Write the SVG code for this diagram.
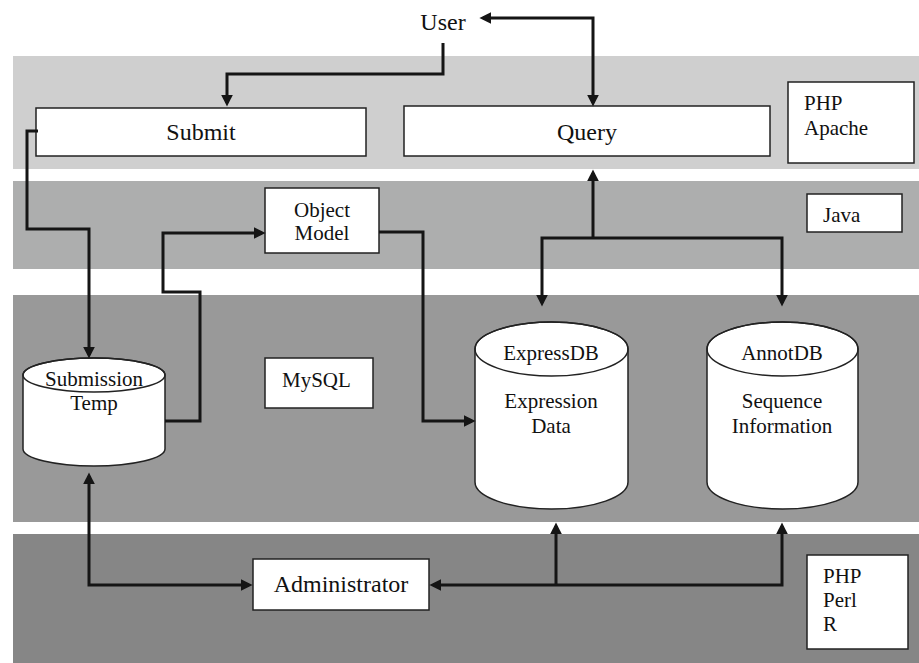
<svg xmlns="http://www.w3.org/2000/svg" width="919" height="663" viewBox="0 0 919 663">
<style>
.box{fill:#fff;stroke:#222;stroke-width:1.5}
.cyl{fill:#fff;stroke:#222;stroke-width:1.5}
text{font-family:'Liberation Serif','DejaVu Serif',serif;fill:#111}
.big{font-size:24px}
.sm{font-size:21px}
.c{text-anchor:middle}
.con path{fill:none;stroke:#151515;stroke-width:3;stroke-linejoin:miter}
</style>
<defs>
<marker id="ah" markerUnits="userSpaceOnUse" markerWidth="12" markerHeight="12" refX="7" refY="5" orient="auto-start-reverse" viewBox="0 0 10 10">
<path d="M0,0 L10,5 L0,10 z" fill="#151515"/>
</marker>
</defs>
<g id="bands">
<rect x="13" y="56" width="906" height="113" fill="#cfcfcf"/>
<rect x="13" y="181" width="906" height="88" fill="#adaeae"/>
<rect x="13" y="295" width="906" height="227" fill="#999999"/>
<rect x="13" y="534" width="906" height="129" fill="#868686"/>
</g>
<g id="user"><text class="big c" x="443" y="30" font-family="Liberation Serif, serif">User</text></g>
<g id="submit"><rect class="box" x="36" y="108" width="330" height="48"/><text class="big c" x="201" y="140">Submit</text></g>
<g id="query"><rect class="box" x="404" y="106" width="366" height="50"/><text class="big c" x="587" y="140">Query</text></g>
<g id="php-apache"><rect class="box" x="788" y="82" width="126" height="81"/><text class="sm" x="804" y="110">PHP</text><text class="sm" x="804" y="135">Apache</text></g>
<g id="java"><rect class="box" x="807" y="194" width="95" height="38"/><text class="sm" x="823" y="222">Java</text></g>
<g id="object-model"><rect class="box" x="265" y="188" width="114" height="65"/><text class="sm c" x="322" y="217">Object</text><text class="sm c" x="322" y="240">Model</text></g>
<g id="mysql"><rect class="box" x="265" y="358" width="108" height="50"/><text class="sm" x="282" y="387">MySQL</text></g>
<g id="submission-temp">
<path class="cyl" d="M23,375 A71,17 0 0 1 165,375 V449 A71,17 0 0 1 23,449 Z"/>
<ellipse cx="94" cy="375" rx="71" ry="17" fill="none" stroke="#222" stroke-width="1.5"/>
<text class="sm c" x="94" y="386">Submission</text><text class="sm c" x="94" y="410">Temp</text>
</g>
<g id="expressdb">
<path class="cyl" d="M475,349 A76.5,27 0 0 1 628,349 V482 A76.5,27 0 0 1 475,482 Z"/>
<ellipse cx="551.5" cy="349" rx="76.5" ry="27" fill="none" stroke="#222" stroke-width="1.5"/>
<text class="sm c" x="551" y="360">ExpressDB</text><text class="sm c" x="551" y="408">Expression</text><text class="sm c" x="551" y="433">Data</text>
</g>
<g id="annotdb">
<path class="cyl" d="M707,349 A75.5,27 0 0 1 858,349 V482 A75.5,27 0 0 1 707,482 Z"/>
<ellipse cx="782.5" cy="349" rx="75.5" ry="27" fill="none" stroke="#222" stroke-width="1.5"/>
<text class="sm c" x="782" y="360">AnnotDB</text><text class="sm c" x="782" y="408">Sequence</text><text class="sm c" x="782" y="433">Information</text>
</g>
<g id="administrator"><rect class="box" x="253" y="559" width="176" height="51"/><text class="big c" x="341" y="592">Administrator</text></g>
<g id="php-perl-r"><rect class="box" x="807" y="555" width="101" height="94"/><text class="sm" x="823" y="583">PHP</text><text class="sm" x="823" y="607">Perl</text><text class="sm" x="823" y="631">R</text></g>
<g id="connectors" class="con">
<path d="M443,43 V74 H227 V103" marker-end="url(#ah)"/>
<path d="M483,18 H593 V103" marker-start="url(#ah)" marker-end="url(#ah)"/>
<path d="M38,131 H27 V229 H89 V355" marker-end="url(#ah)"/>
<path d="M165,421 H200 V292 H163 V233 H262" marker-end="url(#ah)"/>
<path d="M379,232 H423 V421 H472" marker-end="url(#ah)"/>
<path d="M593,238 V173" marker-end="url(#ah)"/>
<path d="M542,303 V238 H782 V303" marker-start="url(#ah)" marker-end="url(#ah)"/>
<path d="M89,476 V585 H249" marker-start="url(#ah)" marker-end="url(#ah)"/>
<path d="M433,585 H782 V526" marker-start="url(#ah)" marker-end="url(#ah)"/>
<path d="M556,585 V526" marker-end="url(#ah)"/>
</g>
</svg>
